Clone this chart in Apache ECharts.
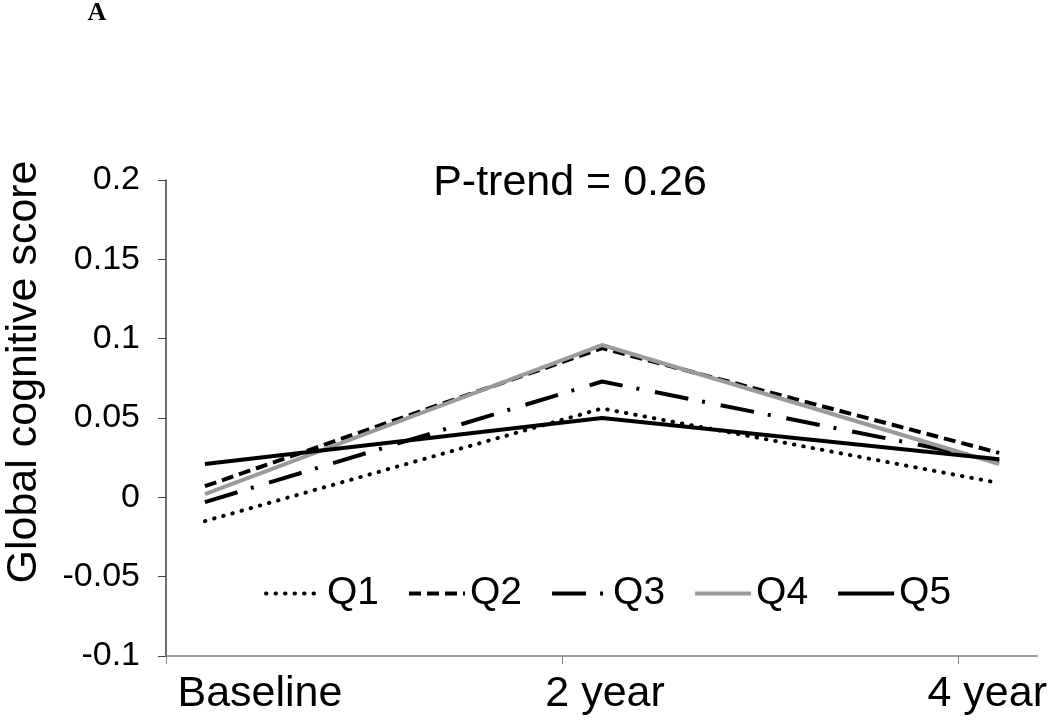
<!DOCTYPE html>
<html>
<head>
<meta charset="utf-8">
<script src="https://cdn.jsdelivr.net/npm/echarts@6/dist/echarts.min.js"></script>
<style>
html,body{margin:0;padding:0;background:#fff;}
#chart{width:1050px;height:720px;}
</style>
</head>
<body>
<div id="chart"></div>
<script>
// ---- data ----
const categories = ['Baseline', '2 year', '4 year'];
const seriesNames = ['Q1', 'Q2', 'Q3', 'Q4', 'Q5'];
const q1 = [-0.015, 0.056, 0.009];
const q2 = [0.007, 0.094, 0.028];
const q3 = [-0.003, 0.073, 0.023];
const q4 = [0.002, 0.096, 0.021];
const q5 = [0.021, 0.050, 0.024];
const yMin = -0.1, yMax = 0.2, yStep = 0.05;
const annotation = 'P-trend = 0.26';
const yTitle = 'Global cognitive score';
const panelLabel = 'A';

const FONT = '"Liberation Sans", Arial, sans-serif';
const values = [q1, q2, q3, q4, q5];
const styles = [
  { color: '#000', width: 4, type: [0.5, 9], cap: 'round' },
  { color: '#000', width: 4, type: [12, 6], cap: 'butt' },
  { color: '#000', width: 4, type: [34, 14, 3, 16], cap: 'butt' },
  { color: '#9b9b9b', width: 4, type: 'solid', cap: 'butt' },
  { color: '#000', width: 4, type: 'solid', cap: 'butt' }
];
const idx = categories.map((c, i) => i);

const chart = echarts.init(document.getElementById('chart'), null, { renderer: 'canvas' });
chart.setOption({
  backgroundColor: '#fff',
  animation: false,
  grid: { left: 166, right: 12, top: 180, bottom: 64, containLabel: false },
  xAxis: [
    {
      type: 'value', min: -0.098, max: 2.096, position: 'bottom',
      axisLine: { show: false, onZero: false }, axisTick: { show: false }, splitLine: { show: false },
      axisLabel: {
        customValues: idx, margin: 17, color: '#000', fontFamily: FONT, fontSize: 43,
        formatter: function (v) {
          const i = Math.round(v);
          const key = i === 0 ? 'first' : (i === categories.length - 1 ? 'last' : 'mid');
          return '{' + key + '|' + categories[i] + '}';
        },
        rich: {
          first: { fontFamily: FONT, fontSize: 43, color: '#000', padding: [0, 0, 0, 110] },
          mid: { fontFamily: FONT, fontSize: 43, color: '#000', padding: [0, 0, 0, 6] },
          last: { fontFamily: FONT, fontSize: 43, color: '#000', padding: [0, 24, 0, 0] }
        }
      }
    },
    {
      type: 'value', min: 0, max: 2.2, position: 'top', offset: -476,
      axisLine: { show: true, onZero: false, lineStyle: { color: '#808080', width: 1.5 } },
      axisTick: { show: true, inside: true, length: 8, customValues: idx, lineStyle: { color: '#808080', width: 1 } },
      axisLabel: { show: false }, splitLine: { show: false }
    }
  ],
  yAxis: {
    type: 'value', min: yMin, max: yMax, interval: yStep,
    axisLine: { show: true, onZero: false, lineStyle: { color: '#404040', width: 1.5 } },
    axisTick: { show: true, length: 8, lineStyle: { color: '#404040', width: 1 } },
    axisLabel: { color: '#000', fontFamily: FONT, fontSize: 34, margin: 26 },
    splitLine: { show: false }
  },
  legend: {
    data: seriesNames, left: 264, top: 574, padding: 0,
    itemWidth: 56, itemHeight: 14, itemGap: 28,
    textStyle: { color: '#000', fontFamily: FONT, fontSize: 39 },
    itemStyle: { opacity: 0 },
    lineStyle: { width: 4 }
  },
  graphic: [
    { type: 'text', x: 97, y: 13, style: { text: panelLabel, font: 'bold 26px "Liberation Serif", "Times New Roman", serif', fill: '#000', align: 'center', verticalAlign: 'middle' } },
    { type: 'text', x: 570, y: 183, style: { text: annotation, font: '43px ' + FONT, fill: '#000', align: 'center', verticalAlign: 'middle' } },
    { type: 'text', x: 24, y: 372, rotation: Math.PI / 2, style: { text: yTitle, font: '43px ' + FONT, fill: '#000', align: 'center', verticalAlign: 'middle' } }
  ],
  series: seriesNames.map((name, s) => ({
    name: name, type: 'line', xAxisIndex: 0, symbol: 'none', showSymbol: false,
    data: idx.map(i => [i, values[s][i]]),
    lineStyle: { color: styles[s].color, width: styles[s].width, type: styles[s].type, cap: styles[s].cap },
    itemStyle: { color: styles[s].color },
    emphasis: { disabled: true }
  }))
});
</script>
</body>
</html>
